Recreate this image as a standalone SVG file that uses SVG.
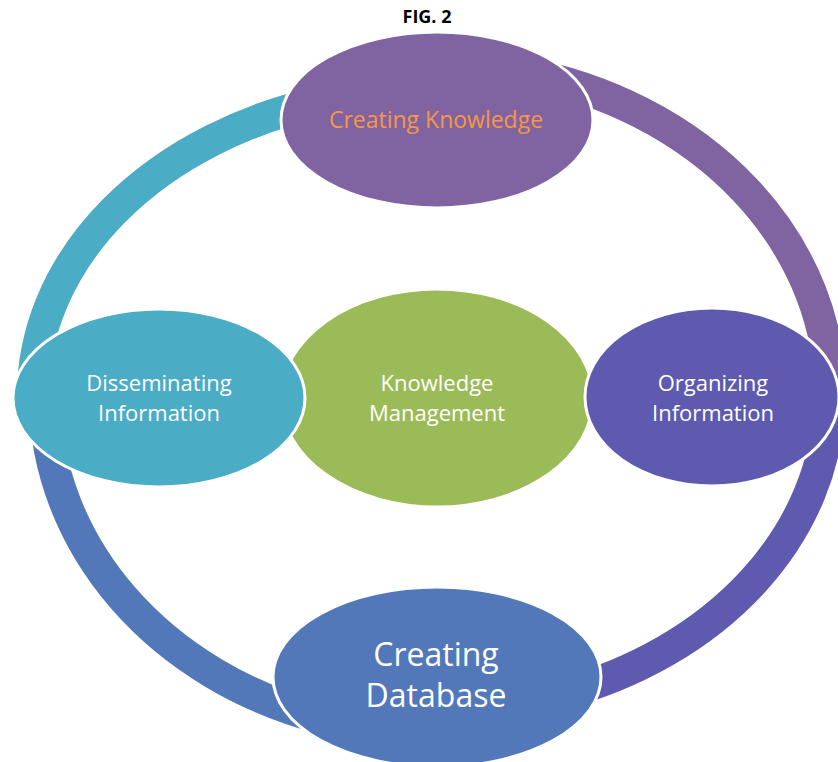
<svg xmlns="http://www.w3.org/2000/svg" width="838" height="762" viewBox="0 0 838 762">
  <style>
    .band { fill: none; stroke-width: 32; }
    .node { stroke: #FFFFFF; stroke-width: 3; }
    .label { font-family: "Open Sans", "Noto Sans", "DejaVu Sans", sans-serif; font-size: 22px; fill: #FFFFFF; text-anchor: middle; }
    .single { font-size: 23px; }
    .big { font-size: 32px; }
    .title { font-family: "Open Sans", "Noto Sans", "DejaVu Sans", sans-serif; font-size: 18px; font-weight: bold; fill: #000000; text-anchor: middle; }
  </style>
  <rect width="838" height="762" fill="#FFFFFF"/>

  <text class="title" x="427" y="23">FIG. 2</text>

  <!-- cycle ring: four coloured arcs that run beneath the outer nodes -->
  <g id="connectors">
    <path class="band" stroke="#4BACC6" d="M 33.05 400 A 402 306 0 0 1 330 99.6"/>
    <path class="band" stroke="#8064A2" d="M 520 72.04 A 395.3 330.7 0 0 1 830.25 400"/>
    <path class="band" stroke="#5D5AAF" d="M 829.25 400 A 394.3 315.4 0 0 1 560 694.13"/>
    <path class="band" stroke="#5278BA" d="M 320 717.7 A 390.2 337.7 0 0 1 44.8 400"/>
  </g>

  <g id="node-knowledge-management">
    <ellipse class="node" cx="437" cy="398" rx="156" ry="109" fill="#9BBB59"/>
    <text class="label" x="437" y="390.5">Knowledge</text>
    <text class="label" x="437" y="420.5">Management</text>
  </g>

  <g id="node-creating-knowledge">
    <ellipse class="node" cx="437" cy="120" rx="156" ry="88" fill="#8064A2"/>
    <text class="label single" x="436" y="128" style="fill:#F79646">Creating Knowledge</text>
  </g>

  <g id="node-organizing-information">
    <ellipse class="node" cx="712" cy="397" rx="127" ry="89" fill="#5D5AAF"/>
    <text class="label" x="713" y="390.5">Organizing</text>
    <text class="label" x="713" y="420.5">Information</text>
  </g>

  <g id="node-creating-database">
    <ellipse class="node" cx="437" cy="677" rx="164" ry="90" fill="#5278BA"/>
    <text class="label big" x="436" y="666">Creating</text>
    <text class="label big" x="436" y="707">Database</text>
  </g>

  <g id="node-disseminating-information">
    <ellipse class="node" cx="159" cy="398" rx="146" ry="89" fill="#4BACC6"/>
    <text class="label" x="159" y="390.5">Disseminating</text>
    <text class="label" x="159" y="420.5">Information</text>
  </g>
</svg>
